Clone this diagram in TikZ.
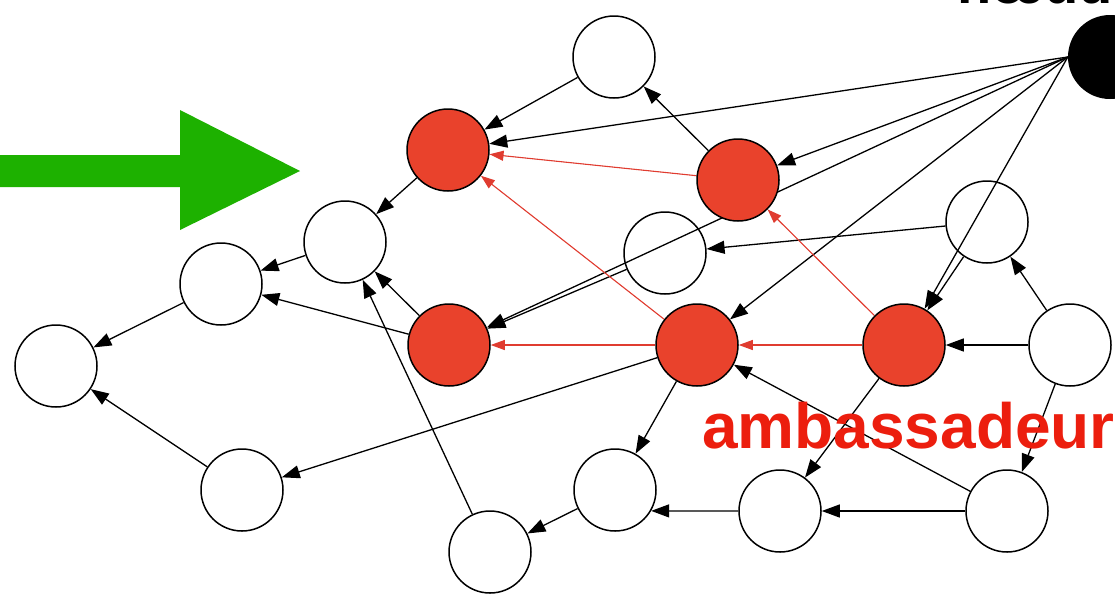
\documentclass[tikz,border=0pt]{standalone}
\usepackage{fontspec}
\setmainfont{Liberation Sans}
\usepackage{xcolor}
\usetikzlibrary{arrows.meta,backgrounds}
\definecolor{ambred}{RGB}{233,66,44}
\definecolor{linkred}{RGB}{224,60,48}
\definecolor{labelred}{RGB}{236,30,14}
\definecolor{pushgreen}{RGB}{29,177,0}

\begin{document}
\begin{tikzpicture}[x=1pt,y=-1pt,
    peer/.style={circle,draw,line width=1.5pt,minimum size=82pt,inner sep=0pt},
    amb/.style={peer,fill=ambred},
    link/.style={-{Triangle[length=18pt,width=13pt]},line width=1.3pt},
    redlink/.style={-{Triangle[length=14pt,width=10pt]},line width=1.1pt,draw=linkred,fill=linkred}]
    \useasboundingbox (0,0) rectangle (1115,595);
    \clip (0,0) rectangle (1115,595);

    % big arrow on the left
    \fill[pushgreen] (0,155) -- (180,155) -- (180,110) -- (300,171) -- (180,230) -- (180,187) -- (0,187) -- cycle;

    \node[circle,fill=black,minimum size=84pt,inner sep=0pt] (src) at (1110,57) {};

    \node[amb] (r1) at (448,150) {};
    \node[amb] (r2) at (738,180) {};
    \node[amb] (r3) at (449,345) {};
    \node[amb] (r4) at (697,345) {};
    \node[amb] (r5) at (904,345) {};

    \node[peer] (p1) at (614,57) {};
    \node[peer] (p2) at (345,242) {};
    \node[peer] (p3) at (665,253) {};
    \node[peer] (p4) at (987,222) {};
    \node[peer] (p5) at (221,284) {};
    \node[peer] (p6) at (56,366) {};
    \node[peer] (p7) at (1070,345) {};
    \node[peer] (p8) at (615,490) {};
    \node[peer] (p9) at (780,511) {};
    \node[peer] (p10) at (1007,511) {};
    \node[peer] (p11) at (242,490) {};
    \node[peer] (p12) at (490,552) {};

    \begin{pgfonlayer}{background}
    \foreach \t in {r1,r2,r3,r4,r5}
        \draw[link] (src.west) -- (\t);
    \foreach \a/\b in {p1/r1, r2/p1, p3/r3, p4/p3, p4/r5, p7/p4, p7/r5, p7/p10,
                       r1/p2, p2/p5, p5/p6, r3/p5, r3/p2, p12/p2, r4/p11, p11/p6,
                       r4/p8, p8/p12, p10/p9, p10/r4, r5/p9}
        \draw[link] (\a) -- (\b);
    \draw[link] (p9.west) -- (p8.-30);
    \foreach \a/\b in {r2/r1, r4/r1, r5/r2, r4/r3, r5/r4}
        \draw[redlink] (\a) -- (\b);
    \end{pgfonlayer}

    \node[anchor=base west,inner sep=0pt,font=\bfseries\fontsize{56}{60}\selectfont] (srclabel) at (957,3) {nœud};
    \node[anchor=base west,inner sep=0pt,text=labelred,font=\bfseries\fontsize{64}{70}\selectfont] (amblabel) at (702,448) {ambassadeur};
\end{tikzpicture}
\end{document}
